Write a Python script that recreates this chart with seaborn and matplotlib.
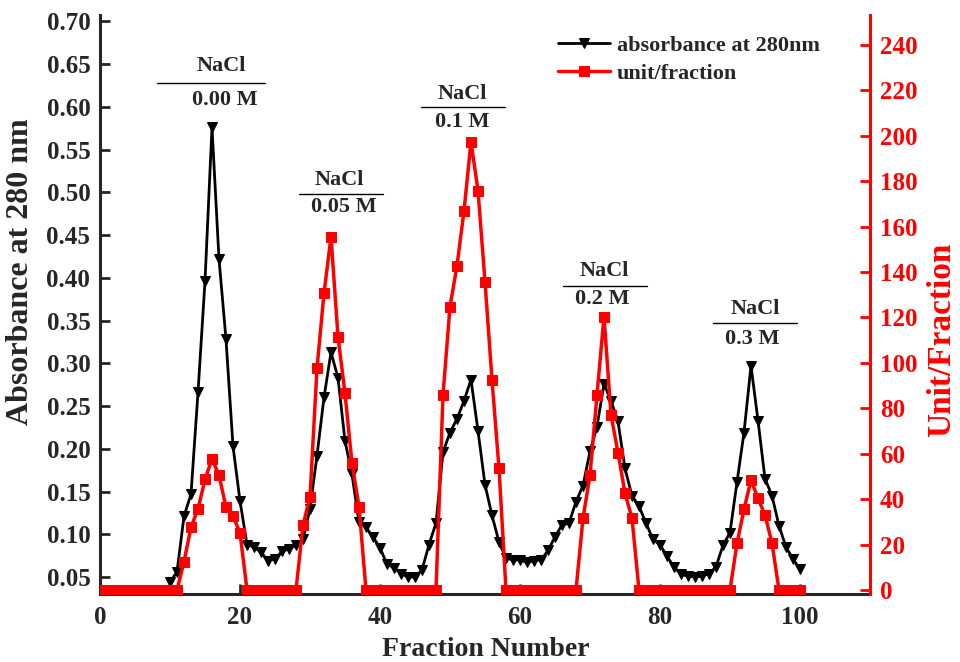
import matplotlib
matplotlib.use("Agg")
import matplotlib.pyplot as plt
import seaborn as sns
import pandas as pd
from matplotlib.ticker import FormatStrFormatter

# ---------------- data ----------------
fraction_abs = [10, 11, 12, 13, 14, 15, 16, 17, 18, 19, 20,
                21, 22, 23, 24, 25, 26, 27, 28, 29, 30,
                31, 32, 33, 34, 35, 36, 37, 38, 39, 40,
                41, 42, 43, 44, 45, 46, 47, 48, 49, 50,
                51, 52, 53, 54, 55, 56, 57, 58, 59, 60,
                61, 62, 63, 64, 65, 66, 67, 68, 69, 70,
                71, 72, 73, 74, 75, 76, 77, 78, 79, 80,
                81, 82, 83, 84, 85, 86, 87, 88, 89, 90,
                91, 92, 93, 94, 95, 96, 97, 98, 99, 100]
absorbance = [0.044, 0.056, 0.121, 0.147, 0.266, 0.396, 0.576, 0.422, 0.328, 0.203, 0.139,
              0.088, 0.085, 0.079, 0.069, 0.071, 0.080, 0.083, 0.087, 0.094, 0.130,
              0.192, 0.260, 0.313, 0.283, 0.209, 0.170, 0.114, 0.108, 0.097, 0.084,
              0.065, 0.061, 0.054, 0.050, 0.050, 0.058, 0.088, 0.113, 0.196, 0.219,
              0.235, 0.256, 0.281, 0.221, 0.158, 0.122, 0.091, 0.072, 0.070, 0.070,
              0.067, 0.069, 0.070, 0.081, 0.097, 0.111, 0.113, 0.138, 0.157, 0.197,
              0.226, 0.276, 0.256, 0.232, 0.177, 0.145, 0.133, 0.113, 0.094, 0.088,
              0.074, 0.062, 0.053, 0.051, 0.050, 0.051, 0.054, 0.062, 0.087, 0.102,
              0.161, 0.219, 0.297, 0.233, 0.165, 0.145, 0.110, 0.085, 0.071, 0.059]

fraction_unit = [0, 1, 2, 3, 4, 5, 6, 7, 8, 9, 10,
                 11, 12, 13, 14, 15, 16, 17, 18, 19, 20,
                 21, 22, 23, 24, 25, 26, 27, 28, 29, 30,
                 31, 32, 33, 34, 35, 36, 37, 38, 39, 40,
                 41, 42, 43, 44, 45, 46, 47, 48, 49, 50,
                 51, 52, 53, 54, 55, 56, 57, 58, 59, 60,
                 61, 62, 63, 64, 65, 66, 67, 68, 69, 70,
                 71, 72, 73, 74, 75, 76, 77, 78, 79, 80,
                 81, 82, 83, 84, 85, 86, 87, 88, 89, 90,
                 91, 92, 93, 94, 95, 96, 97, 98, 99, 100]
unit_per_fraction = [0, 0, 0, 0, 0, 0, 0, 0, 0, 0, 0,
                     0, 12.5, 27.6, 35.7, 48.7, 57.7, 50.6, 36.4, 32.6, 25.2,
                     0, 0, 0, 0, 0, 0, 0, 0, 28.6, 41.1,
                     97.6, 130.7, 155.6, 111.5, 86.6, 55.8, 36.7, 0, 0, 0,
                     0, 0, 0, 0, 0, 0, 0, 0, 85.9, 124.8,
                     142.8, 166.9, 197.4, 175.8, 135.8, 92.5, 53.6, 0, 0, 0,
                     0, 0, 0, 0, 0, 0, 0, 0, 31.6, 50.6,
                     85.9, 120.4, 77.1, 60.5, 42.6, 31.6, 0, 0, 0, 0,
                     0, 0, 0, 0, 0, 0, 0, 0, 0, 0,
                     20.6, 35.5, 48.4, 40.4, 33.0, 20.6, 0, 0, 0, 0]

left_ticks = [0.05, 0.10, 0.15, 0.20, 0.25, 0.30, 0.35, 0.40, 0.45, 0.50, 0.55, 0.60, 0.65, 0.70]
right_ticks = [0, 20, 40, 60, 80, 100, 120, 140, 160, 180, 200, 220, 240]
x_ticks = [0, 20, 40, 60, 80, 100]

nacl_labels = ["0.00 M", "0.05 M", "0.1 M", "0.2 M", "0.3 M"]

# ---------------- style ----------------
sns.set_style("ticks")
plt.rcParams["font.family"] = ["Liberation Serif", "DejaVu Serif"]
plt.rcParams["font.weight"] = "bold"
plt.rcParams["axes.labelweight"] = "bold"

RED = "#ff0000"

df_abs = pd.DataFrame({"fraction": fraction_abs, "abs": absorbance})
df_unit = pd.DataFrame({"fraction": fraction_unit, "unit": unit_per_fraction})

fig = plt.figure(figsize=(9.6, 6.62), dpi=100)
ax1 = fig.add_axes([100 / 960, (662 - 594) / 662, 770 / 960, 579 / 662])
ax2 = ax1.twinx()

sns.lineplot(data=df_abs, x="fraction", y="abs", ax=ax1, color="black",
             marker="v", markersize=7.5, markeredgecolor="black", linewidth=2.0,
             label="absorbance at 280nm", legend=False)
sns.lineplot(data=df_unit, x="fraction", y="unit", ax=ax2, color=RED,
             marker="s", markersize=7.5, markeredgecolor=RED, linewidth=2.5,
             label="unit/fraction", legend=False)

ax1.set_xlim(0, 110)
ax1.set_ylim(0.0301, 0.7075)
ax2.set_ylim(-1.76, 253.2)

ax1.set_xticks(x_ticks)
ax1.set_yticks(left_ticks)
ax2.set_yticks(right_ticks)
ax1.yaxis.set_major_formatter(FormatStrFormatter("%.2f"))

tick_fs = 18
for lab in ax1.get_xticklabels() + ax1.get_yticklabels():
    lab.set_fontsize(tick_fs)
    lab.set_fontweight("bold")
for lab in ax2.get_yticklabels():
    lab.set_fontsize(tick_fs)
    lab.set_fontweight("bold")
    lab.set_color(RED)

ax1.tick_params(axis="y", direction="in", length=7, width=2, pad=7)
ax1.tick_params(axis="x", direction="in", length=7, width=2, pad=9)
ax1.tick_params(axis="y", right=False)
ax2.tick_params(axis="y", direction="in", length=7, width=2, colors=RED, pad=7)

for ax in (ax1, ax2):
    ax.spines["top"].set_visible(False)
    for s in ax.spines.values():
        s.set_linewidth(2.2)
ax2.spines["right"].set_color(RED)
ax2.spines["left"].set_visible(False)
ax2.spines["bottom"].set_visible(False)
ax1.spines["right"].set_visible(False)

ax1.set_xlabel("Fraction Number", fontsize=20, fontweight="bold")
ax1.xaxis.set_label_coords(386 / 770, -(650 - 594) / 579)
ax1.xaxis.label.set_verticalalignment("center")

ax1.set_ylabel("Absorbance at 280 nm", fontsize=23, fontweight="bold")
ax1.yaxis.set_label_coords((21 - 100) / 770, (594 - 272) / 579)
ax1.yaxis.label.set_verticalalignment("center")

ax2.set_ylabel("Unit/Fraction", fontsize=24, fontweight="bold", color=RED)
ax2.yaxis.set_label_coords((942 - 100) / 770, (594 - 340) / 579)
ax2.yaxis.label.set_verticalalignment("center")

# legend
h1, l1 = ax1.get_legend_handles_labels()
h2, l2 = ax2.get_legend_handles_labels()
leg = ax2.legend(h1 + h2, l1 + l2, loc="upper left",
                 bbox_to_anchor=(558 / 960, 1 - 35 / 662), bbox_transform=fig.transFigure,
                 frameon=False, prop={"size": 16, "weight": "bold"},
                 handlelength=2.35, handletextpad=0.3, borderpad=0, borderaxespad=0,
                 labelspacing=0.35)

# NaCl annotations (positions in left-axis data coords)
ann_line = [(8.2, 23.5, 0.6275), (28.4, 40.4, 0.4977), (45.9, 57.9, 0.600),
            (66.2, 78.2, 0.391), (87.5, 99.5, 0.347)]
ann_top = [(17.4, 0.6475), (34.2, 0.514), (51.8, 0.615), (72.1, 0.4077), (93.6, 0.363)]
ann_bot = [(17.8, 0.6076), (34.8, 0.4825), (51.7, 0.582), (71.8, 0.375), (93.2, 0.329)]
for (x0, x1, yl), (xt, yt), (xb, yb), lab in zip(ann_line, ann_top, ann_bot, nacl_labels):
    ax1.plot([x0, x1], [yl, yl], color="black", linewidth=1.0, zorder=5)
    ax1.text(xt, yt, "NaCl", ha="center", va="center", fontsize=16, fontweight="bold")
    ax1.text(xb, yb, lab, ha="center", va="center", fontsize=16, fontweight="bold")

fig.savefig("out.png", dpi=100)
